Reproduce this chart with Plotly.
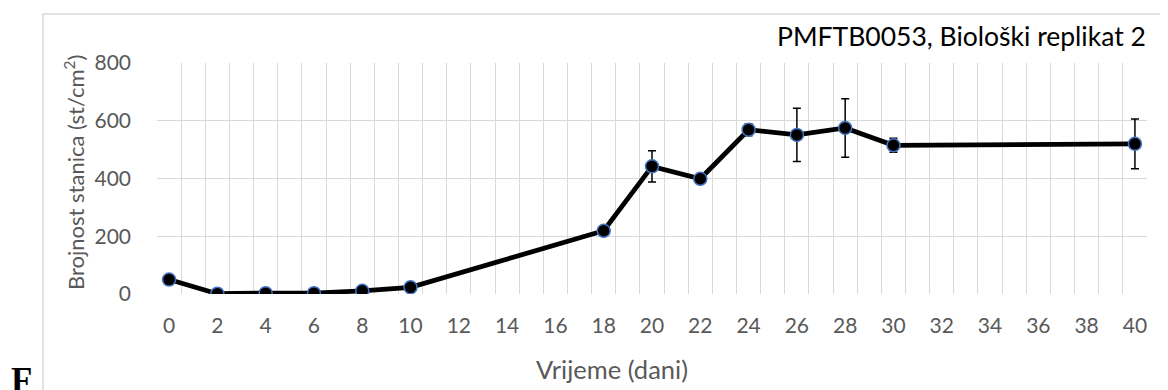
import plotly.graph_objects as go

# days sampled (x axis runs over every day 0..40, labelled every 2nd)
days = [0, 2, 4, 6, 8, 10, 18, 20, 22, 24, 26, 28, 30, 40]
counts = [50, 1, 3, 3, 11, 23, 219, 442, 399, 569, 551, 575, 515, 520]
errors = [0, 0, 0, 0, 0, 0, 0, 54, 0, 21, 92, 101, 24, 86]

tick_days = list(range(0, 41, 2))

# the page body has an 8px margin, so the figure is drawn 8px smaller
# and every target position is shifted by -8
OFF = 8
W, H = 1168 - OFF, 390 - OFF
L, R, T, B = 157 - OFF, 21, 63 - OFF, 96
pw, ph = W - L - R, H - T - B

FONT = "Lato"
GREY = "#595959"
GRID = "#D9D9D9"


def px_x(x):
    return (x - OFF - L) / pw


def px_y(y):
    return (H - B - (y - OFF)) / ph


fig = go.Figure()
fig.add_trace(go.Scatter(
    x=days,
    y=counts,
    mode="lines+markers",
    line=dict(color="black", width=4.8),
    marker=dict(size=13, color="black", line=dict(color="#4472C4", width=1.5)),
    error_y=dict(type="data", array=errors, visible=True,
                 color="black", thickness=1.5, width=4),
    showlegend=False,
))

fig.update_xaxes(
    range=[-0.5, 40.5],
    tickmode="array",
    tickvals=tick_days,
    ticktext=[str(d) for d in tick_days],
    showgrid=False,
    zeroline=False,
    ticks="",
    ticklabelstandoff=17,
    tickfont=dict(family=FONT, size=21, color=GREY),
    minor=dict(tickmode="linear", tick0=-0.5, dtick=1, showgrid=True,
               gridcolor=GRID, gridwidth=1.3, ticks=""),
    showline=False,
)
fig.update_yaxes(
    range=[0, 800],
    tickvals=[0, 200, 400, 600, 800],
    showgrid=True,
    gridcolor=GRID,
    gridwidth=1.3,
    zeroline=False,
    ticks="",
    ticklabelstandoff=25,
    tickfont=dict(family=FONT, size=21, color=GREY),
)

# outer chart-area border (extends past the right and bottom edge)
fig.add_shape(type="rect", xref="paper", yref="paper",
              x0=px_x(43), x1=px_x(1200), y0=px_y(420), y1=px_y(14),
              line=dict(color=GRID, width=1.5), layer="below")

fig.add_annotation(text="PMFTB0053, Biološki replikat 2",
                   xref="paper", yref="paper", x=px_x(1148), y=px_y(36),
                   xanchor="right", yanchor="middle", showarrow=False,
                   font=dict(family=FONT, size=26.5, color="black"))
fig.add_annotation(text="Vrijeme (dani)",
                   xref="paper", yref="paper", x=px_x(612), y=px_y(369),
                   xanchor="center", yanchor="middle", showarrow=False,
                   font=dict(family=FONT, size=25.5, color=GREY))
fig.add_annotation(text="Brojnost stanica (st/cm<sup>2</sup>)",
                   xref="paper", yref="paper", x=px_x(74), y=px_y(173),
                   xanchor="center", yanchor="middle", textangle=-90,
                   showarrow=False,
                   font=dict(family=FONT, size=22, color=GREY))
fig.add_annotation(text="<b>F</b>",
                   xref="paper", yref="paper", x=px_x(9), y=px_y(359),
                   xanchor="left", yanchor="top", showarrow=False,
                   font=dict(family="Liberation Serif", size=35, color="black"))

fig.update_layout(
    width=W,
    height=H,
    margin=dict(l=L, r=R, t=T, b=B, pad=0),
    plot_bgcolor="white",
    paper_bgcolor="white",
)

fig.write_html("out.html")
